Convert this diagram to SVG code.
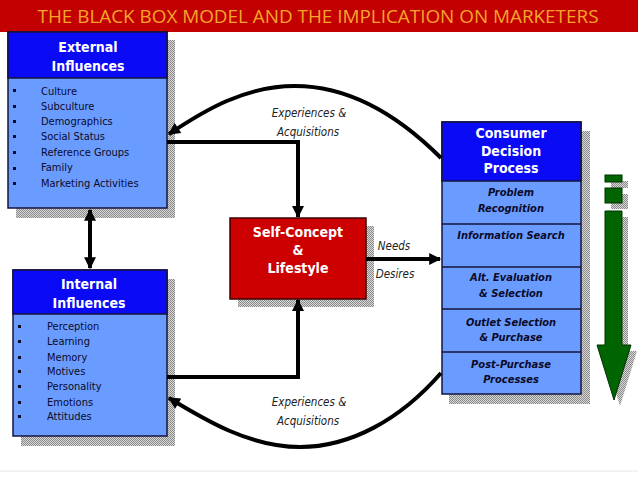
<svg xmlns="http://www.w3.org/2000/svg" width="638" height="479" viewBox="0 0 638 479">
<defs>
<pattern id="sh" width="2" height="2" patternUnits="userSpaceOnUse">
<rect width="2" height="2" fill="#d8d8d8"/>
<rect width="1" height="1" fill="#8a8a8a"/>
<rect x="1" y="1" width="1" height="1" fill="#8a8a8a"/>
</pattern>
<marker id="ah" viewBox="0 0 10 10" refX="9" refY="5" markerWidth="13" markerHeight="12" markerUnits="userSpaceOnUse" orient="auto-start-reverse">
<path d="M0,0 L10,5 L0,10 z" fill="#000"/>
</marker>
</defs>
<style>
.hdr{fill:#0a0af5;stroke:#14143c;stroke-width:1.5}
.body{fill:#6a9cff;stroke:#14143c;stroke-width:1.5}
.shadow{fill:url(#sh)}
.ht{font-family:"DejaVu Sans Condensed","DejaVu Sans",sans-serif;font-weight:bold;fill:#fff;font-size:14px;text-anchor:middle}
.li{font-family:"DejaVu Sans Condensed","DejaVu Sans",sans-serif;fill:#0a0a2a;font-size:11px}
.bu{fill:#0a0a2a}
.rt{font-family:"DejaVu Sans Condensed","DejaVu Sans",sans-serif;font-weight:bold;font-style:italic;fill:#0a0a2a;font-size:11px;text-anchor:middle}
.lab{font-family:"DejaVu Sans Condensed","DejaVu Sans",sans-serif;font-style:italic;fill:#222;font-size:11.5px;text-anchor:middle}
.con{fill:none;stroke:#000;stroke-width:4}
</style>
<rect width="638" height="479" fill="#fff"/>
<g id="title">
<rect x="0" y="0" width="638" height="32" fill="#c20000"/>
<text x="318" y="23" font-family="'Open Sans','Liberation Sans',sans-serif" font-size="18" fill="#f6a52a" text-anchor="middle" textLength="561" lengthAdjust="spacingAndGlyphs">THE BLACK BOX MODEL  AND THE IMPLICATION ON MARKETERS</text>
</g>
<g id="external">
<rect class="shadow" x="16" y="40" width="159" height="178"/>
<rect class="body" x="8" y="32" width="159" height="176"/>
<rect class="hdr" x="8" y="32" width="159" height="46"/>
<text class="ht" x="88" y="52">External</text>
<text class="ht" x="88" y="71">Influences</text>
<g class="bu"><rect x="13" y="89" width="3" height="3"/><rect x="13" y="105" width="3" height="3"/><rect x="13" y="120" width="3" height="3"/><rect x="13" y="135" width="3" height="3"/><rect x="13" y="151" width="3" height="3"/><rect x="13" y="167" width="3" height="3"/><rect x="13" y="182" width="3" height="3"/></g>
<text class="li" x="41" y="95">Culture</text>
<text class="li" x="41" y="110">Subculture</text>
<text class="li" x="41" y="125">Demographics</text>
<text class="li" x="41" y="140">Social Status</text>
<text class="li" x="41" y="156">Reference Groups</text>
<text class="li" x="41" y="171">Family</text>
<text class="li" x="41" y="187">Marketing Activities</text>
</g>
<g id="internal">
<rect class="shadow" x="21" y="279" width="154" height="167"/>
<rect class="body" x="13" y="270" width="154" height="166"/>
<rect class="hdr" x="13" y="270" width="154" height="44"/>
<text class="ht" x="89" y="289">Internal</text>
<text class="ht" x="89" y="308">Influences</text>
<g class="bu"><rect x="18" y="325" width="3" height="3"/><rect x="18" y="340" width="3" height="3"/><rect x="18" y="356" width="3" height="3"/><rect x="18" y="370" width="3" height="3"/><rect x="18" y="385" width="3" height="3"/><rect x="18" y="401" width="3" height="3"/><rect x="18" y="415" width="3" height="3"/></g>
<text class="li" x="47" y="330">Perception</text>
<text class="li" x="47" y="345">Learning</text>
<text class="li" x="47" y="361">Memory</text>
<text class="li" x="47" y="375">Motives</text>
<text class="li" x="47" y="390">Personality</text>
<text class="li" x="47" y="406">Emotions</text>
<text class="li" x="47" y="420">Attitudes</text>
</g>
<g id="selfconcept">
<rect class="shadow" x="238" y="226" width="136" height="81"/>
<rect x="230" y="218" width="136" height="81" fill="#cc0000" stroke="#3a0000" stroke-width="1.5"/>
<text class="ht" x="298" y="237">Self-Concept</text>
<text class="ht" x="298" y="255">&amp;</text>
<text class="ht" x="298" y="273">Lifestyle</text>
</g>
<g id="cdp">
<rect class="shadow" x="449" y="131" width="141" height="273"/>
<rect class="body" x="442" y="122" width="139" height="272"/>
<rect class="hdr" x="442" y="122" width="139" height="59"/>
<g stroke="#14143c" stroke-width="1.5"><line x1="442" y1="224" x2="581" y2="224"/><line x1="442" y1="267" x2="581" y2="267"/><line x1="442" y1="309" x2="581" y2="309"/><line x1="442" y1="352" x2="581" y2="352"/></g>
<text class="ht" x="511" y="138" font-size="12">Consumer</text>
<text class="ht" x="511" y="156" font-size="12">Decision</text>
<text class="ht" x="511" y="173" font-size="12">Process</text>
<text class="rt" x="511" y="196">Problem</text>
<text class="rt" x="511" y="212">Recognition</text>
<text class="rt" x="511" y="239">Information Search</text>
<text class="rt" x="511" y="281">Alt. Evaluation</text>
<text class="rt" x="511" y="297">&amp; Selection</text>
<text class="rt" x="511" y="326">Outlet Selection</text>
<text class="rt" x="511" y="341">&amp; Purchase</text>
<text class="rt" x="511" y="368">Post-Purchase</text>
<text class="rt" x="511" y="383">Processes</text>
</g>
<g id="flow-arrow">
<g class="shadow"><rect x="611" y="181" width="17" height="7"/><rect x="611" y="194" width="17" height="15"/><path d="M611,217 L628,217 L628,351 L637,351 L620,406 L603,351 L611,351 z"/></g>
<g fill="#006400" stroke="#003000" stroke-width="1"><rect x="605" y="175" width="17" height="7"/><rect x="605" y="188" width="17" height="15"/><path d="M605,211 L622,211 L622,345 L631,345 L614,400 L597,345 L605,345 z"/></g>
</g>
<g id="connectors">
<line class="con" x1="90" y1="210" x2="90" y2="268" marker-start="url(#ah)" marker-end="url(#ah)"/>
<polyline class="con" points="167,142 298,142 298,217"/>
<polyline class="con" points="167,377 298,377 298,300"/>
<line class="con" x1="366" y1="259" x2="440" y2="259" marker-end="url(#ah)"/>
<path class="con" d="M441,158 C395,112 345,86 295,86 C245,86 205,110 169,134" marker-end="url(#ah)"/>
<path class="con" d="M441,373 C400,420 350,447 300,447 C250,447 205,420 169,398" marker-end="url(#ah)"/>
<path d="M298,218 l-6,-12 h12 z" fill="#000"/>
<path d="M298,299 l-6,12 h12 z" fill="#000"/>
</g>
<g id="labels">
<text class="lab" x="309" y="117">Experiences &amp;</text>
<text class="lab" x="308" y="136">Acquisitions</text>
<text class="lab" x="309" y="406">Experiences &amp;</text>
<text class="lab" x="308" y="425">Acquisitions</text>
<text class="lab" x="394" y="250">Needs</text>
<text class="lab" x="395" y="278">Desires</text>
</g>
<line x1="0" y1="471" x2="638" y2="471" stroke="#e6e6e6" stroke-width="1"/>
</svg>
